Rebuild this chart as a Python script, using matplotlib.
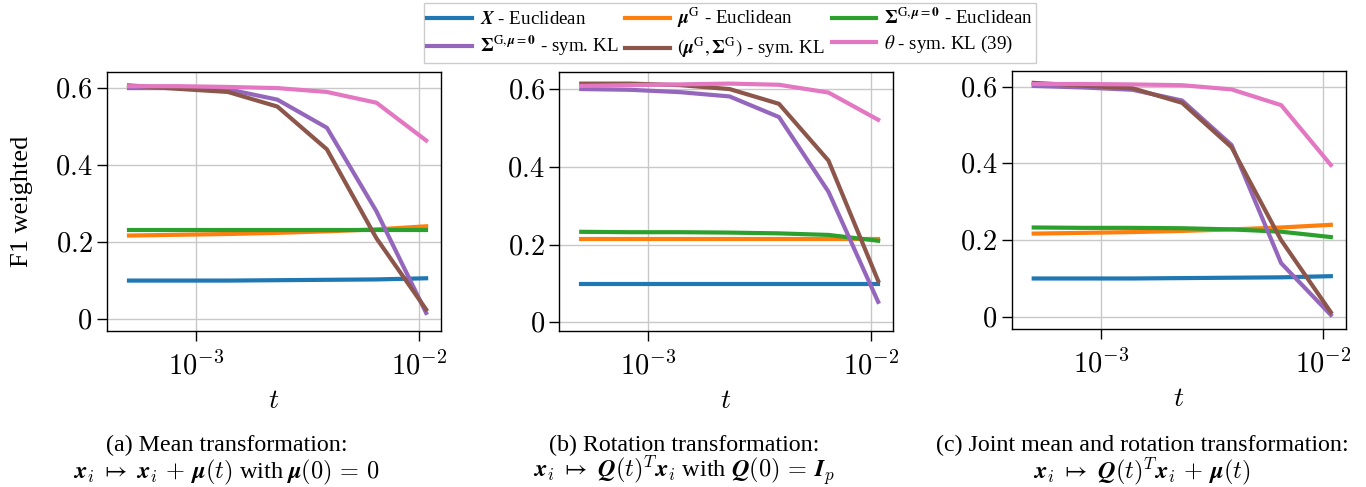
import matplotlib
matplotlib.use("Agg")
import matplotlib.pyplot as plt
from matplotlib.ticker import FixedLocator, FixedFormatter, NullLocator

plt.rcParams['font.family'] = ['Liberation Serif', 'DejaVu Serif']
plt.rcParams['mathtext.fontset'] = 'cm'

# ---- data ----
t = [0.0005, 0.000835, 0.00139, 0.00232, 0.00387, 0.00646, 0.0108]

# panel (a) mean transformation
a_X      = [0.100, 0.100, 0.100, 0.101, 0.102, 0.103, 0.106]
a_mu     = [0.217, 0.219, 0.221, 0.224, 0.228, 0.233, 0.241]
a_SigE   = [0.232, 0.232, 0.232, 0.232, 0.232, 0.232, 0.232]
a_SigKL  = [0.600, 0.600, 0.597, 0.570, 0.497, 0.280, 0.016]
a_muSig  = [0.607, 0.598, 0.590, 0.552, 0.441, 0.210, 0.025]
a_theta  = [0.605, 0.605, 0.603, 0.600, 0.590, 0.562, 0.464]

# panel (b) rotation transformation
b_X      = [0.100, 0.100, 0.100, 0.100, 0.100, 0.100, 0.100]
b_mu     = [0.215, 0.215, 0.215, 0.215, 0.215, 0.215, 0.215]
b_SigE   = [0.233, 0.232, 0.232, 0.231, 0.229, 0.225, 0.210]
b_SigKL  = [0.600, 0.598, 0.592, 0.581, 0.528, 0.336, 0.053]
b_muSig  = [0.614, 0.614, 0.610, 0.600, 0.562, 0.416, 0.107]
b_theta  = [0.608, 0.610, 0.612, 0.614, 0.611, 0.591, 0.521]

# panel (c) joint mean and rotation
c_X      = [0.100, 0.100, 0.100, 0.101, 0.102, 0.103, 0.106]
c_mu     = [0.217, 0.219, 0.221, 0.224, 0.228, 0.233, 0.240]
c_SigE   = [0.233, 0.232, 0.232, 0.231, 0.228, 0.222, 0.208]
c_SigKL  = [0.602, 0.598, 0.592, 0.564, 0.448, 0.140, 0.005]
c_muSig  = [0.610, 0.603, 0.596, 0.558, 0.442, 0.200, 0.012]
c_theta  = [0.607, 0.607, 0.606, 0.604, 0.593, 0.552, 0.396]

labels = [
    r"$\boldsymbol{X}$ - Euclidean",
    r"$\boldsymbol{\mu}^{\mathrm{G}}$ - Euclidean",
    r"$\mathbf{\Sigma}^{\mathrm{G},\boldsymbol{\mu}=\mathbf{0}}$ - Euclidean",
    r"$\mathbf{\Sigma}^{\mathrm{G},\boldsymbol{\mu}=\mathbf{0}}$ - sym. KL",
    r"$(\boldsymbol{\mu}^{\mathrm{G}},\mathbf{\Sigma}^{\mathrm{G}})$ - sym. KL",
    r"$\theta$ - sym. KL (39)",
]
colors = ['#1f77b4', '#ff7f0e', '#2ca02c', '#9467bd', '#8c564b', '#e377c2']

panels = [
    [a_X, a_mu, a_SigE, a_SigKL, a_muSig, a_theta],
    [b_X, b_mu, b_SigE, b_SigKL, b_muSig, b_theta],
    [c_X, c_mu, c_SigE, c_SigKL, c_muSig, c_theta],
]
ylims = [(-0.031, 0.642), (-0.022, 0.644), (-0.031, 0.642)]

yticks = [0, 0.2, 0.4, 0.6]
yticklabels = ['$0$', '$0.2$', '$0.4$', '$0.6$']
xticks = [1e-3, 1e-2]
xticklabels = ['$10^{-3}$', '$10^{-2}$']

captions = [
    ("(a) Mean transformation:",
     r"$\boldsymbol{x}_i \;\mapsto\; \boldsymbol{x}_i \,+\, \boldsymbol{\mu}(t)$ with $\boldsymbol{\mu}(0) \,=\, \boldsymbol{0}$"),
    ("(b) Rotation transformation:",
     r"$\boldsymbol{x}_i \;\mapsto\; \boldsymbol{Q}(t)^T \boldsymbol{x}_i$ with $\boldsymbol{Q}(0) \,=\, \boldsymbol{I}_p$"),
    ("(c) Joint mean and rotation transformation:",
     r"$\boldsymbol{x}_i \;\mapsto\; \boldsymbol{Q}(t)^T \boldsymbol{x}_i \,+\, \boldsymbol{\mu}(t)$"),
]
caption_x = [0.166, 0.501, 0.836]

fig = plt.figure(figsize=(13.66, 4.87), dpi=100)
positions = [
    [0.0783, 0.3203, 0.2445, 0.532],
    [0.4094, 0.3203, 0.2443, 0.532],
    [0.7406, 0.3250, 0.2445, 0.530],
]

handles = None
for i, (pos, series) in enumerate(zip(positions, panels)):
    ax = fig.add_axes(pos)
    hs = []
    for s, c, lab in zip(series, colors, labels):
        h, = ax.plot(t, s, color=c, lw=3, label=lab)
        hs.append(h)
    if handles is None:
        handles = hs
    ax.set_xscale('log')
    ax.set_xlim(10 ** -3.4, 10 ** -1.9)
    ax.set_ylim(*ylims[i])
    ax.xaxis.set_major_locator(FixedLocator(xticks))
    ax.xaxis.set_major_formatter(FixedFormatter(xticklabels))
    ax.xaxis.set_minor_locator(NullLocator())
    ax.yaxis.set_major_locator(FixedLocator(yticks))
    ax.yaxis.set_major_formatter(FixedFormatter(yticklabels))
    ax.tick_params(labelsize=20.5, length=7, width=1)
    ax.tick_params(axis='x', pad=8)
    ax.grid(True, color='#c8c8c8', lw=1)
    ax.set_axisbelow(True)
    for sp in ax.spines.values():
        sp.set_linewidth(1)
    ax.set_xlabel('$t$', fontsize=20, labelpad=6)
    if i == 0:
        ax.set_ylabel('F1 weighted', fontsize=19, labelpad=16)
    fig.text(caption_x[i], 1 - 451 / 487, captions[i][0], ha='center', va='baseline', fontsize=17.3)
    fig.text(caption_x[i], 1 - 478 / 487, captions[i][1], ha='center', va='baseline', fontsize=17.5)

order = [0, 3, 1, 4, 2, 5]
leg = fig.legend([handles[k] for k in order], [labels[k] for k in order],
                 loc='upper center', bbox_to_anchor=(0.5344, 0.9938), ncol=3,
                 fontsize=13.7, handlelength=2.36, columnspacing=0.35,
                 handletextpad=0.4, labelspacing=0.3, borderpad=0.15,
                 borderaxespad=0,
                 fancybox=False, edgecolor='#cccccc', framealpha=1)
leg.get_frame().set_linewidth(1)
for txt in leg.get_texts():
    txt.set_math_fontfamily('stix')

fig.savefig('out.png', dpi=100)
